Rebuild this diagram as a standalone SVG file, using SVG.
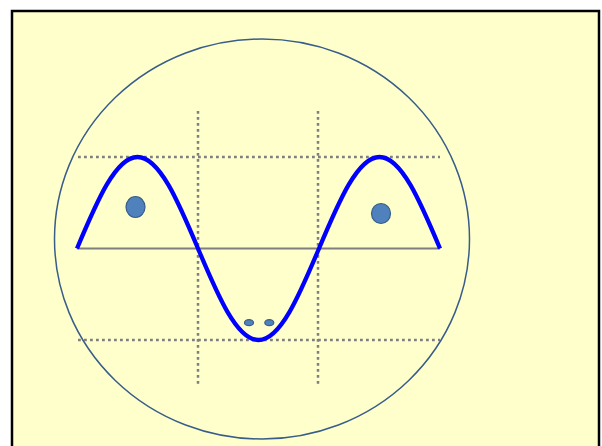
<svg xmlns="http://www.w3.org/2000/svg" width="602" height="446" viewBox="0 0 602 446">
<style>
.grid{stroke:#7F7F7F;stroke-width:2.5;stroke-dasharray:2.8 3.2;fill:none}
.dot{fill:#4F81BD;stroke:#385D8A;stroke-width:1.2}
</style>
<rect x="0" y="0" width="602" height="446" fill="#FFFFFF"/>
<g id="frame"><rect x="12" y="11" width="587" height="445" fill="#FFFFCC" stroke="#000000" stroke-width="2.5"/></g>
<g id="screen"><ellipse cx="262" cy="239" rx="207.5" ry="200" fill="none" stroke="#385D8A" stroke-width="1.5"/></g>
<g id="connectors">
<line class="grid" x1="78" y1="157" x2="440" y2="157"/>
<line class="grid" x1="78" y1="340" x2="440" y2="340"/>
<line class="grid" x1="198" y1="111" x2="198" y2="385"/>
<line class="grid" x1="318" y1="111" x2="318" y2="385"/>
<line x1="77" y1="248.5" x2="440" y2="248.5" stroke="#7F7F7F" stroke-width="2.2"/>
<path id="wave" fill="none" stroke="#0000FF" stroke-width="4.3" stroke-linejoin="round" d="M77,248.5 C96.73,201.63 115.6,157 137.5,157 C159.4,157 178.27,201.63 198,248.5 C217.73,295.37 236.6,340 258.5,340 C280.4,340 299.27,295.37 319,248.5 C338.73,201.63 357.6,157 379.5,157 C401.4,157 420.27,201.63 440,248.5"/>
</g>
<g id="particles">
<ellipse class="dot" cx="135.5" cy="207" rx="9.5" ry="10.5"/>
<ellipse class="dot" cx="381" cy="213.5" rx="9.5" ry="10"/>
<ellipse class="dot" cx="249" cy="322.7" rx="4.5" ry="3"/>
<ellipse class="dot" cx="269.3" cy="322.7" rx="4.5" ry="3"/>
</g>
</svg>
